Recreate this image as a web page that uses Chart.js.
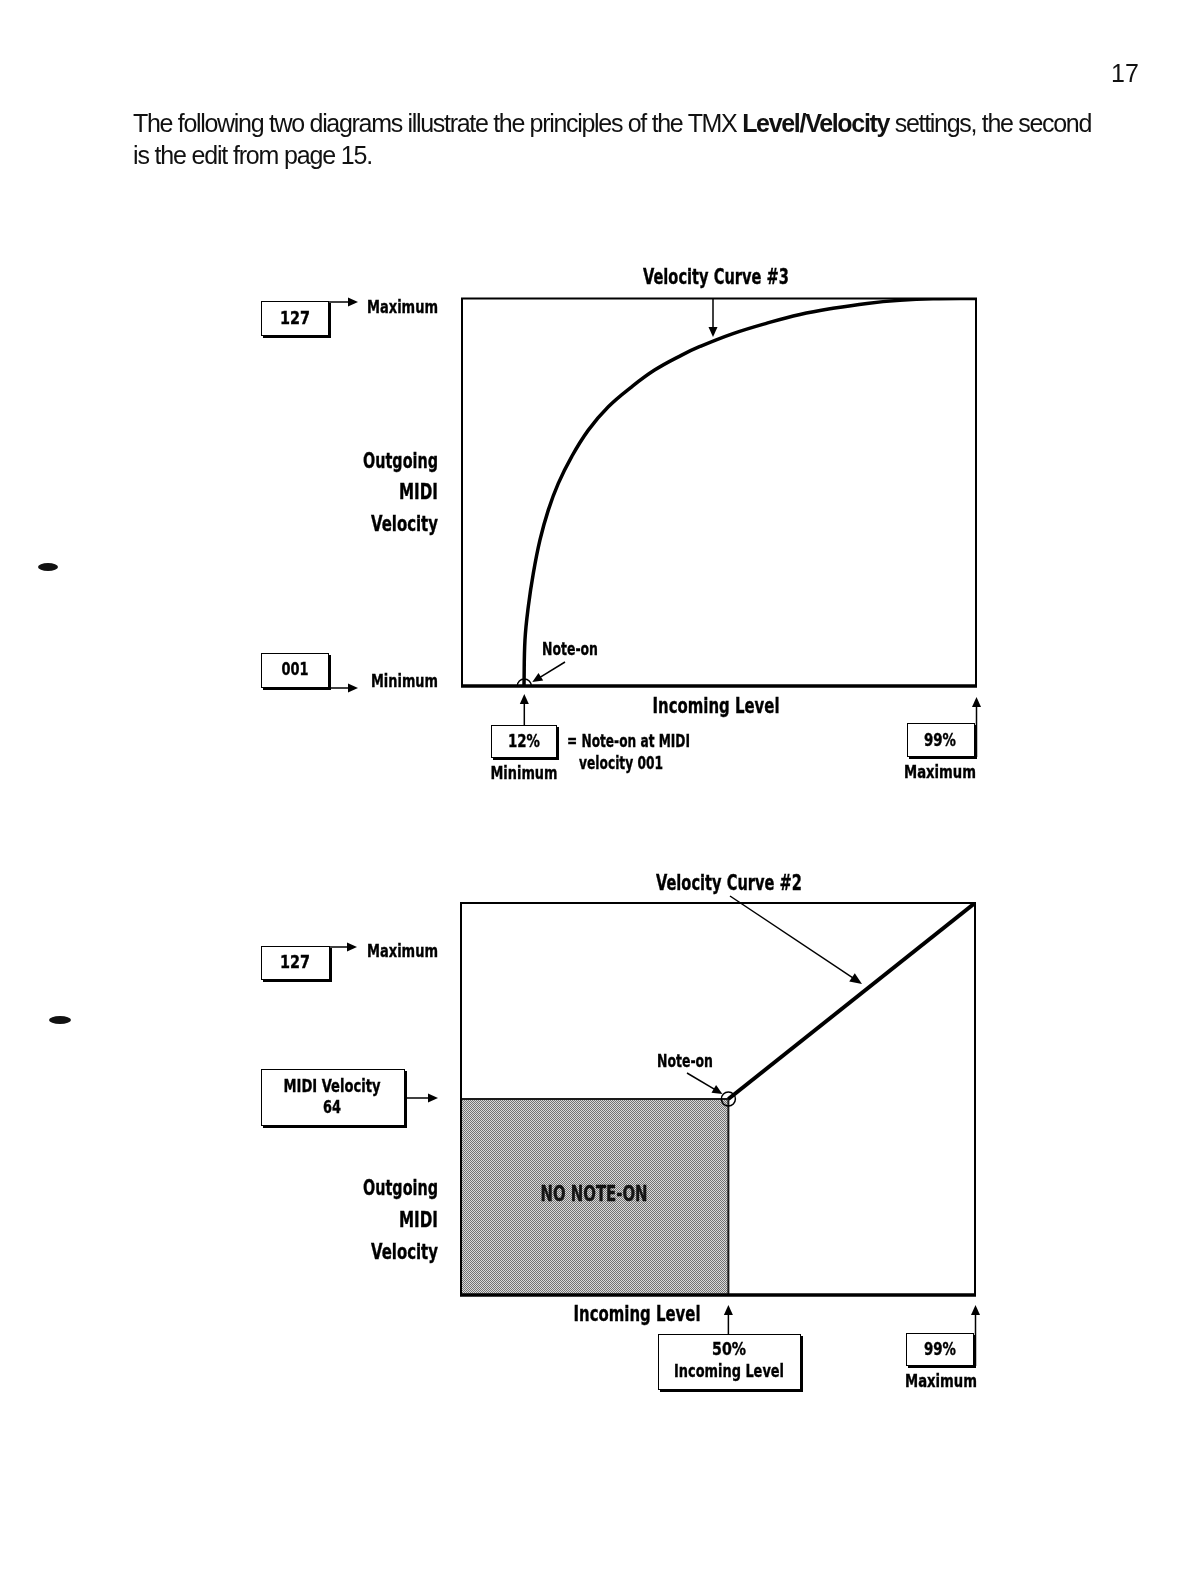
<!DOCTYPE html>
<html>
<head>
<meta charset="utf-8">
<script src="https://cdn.jsdelivr.net/npm/chart.js@4.4.1/dist/chart.umd.min.js"></script>
<style>
  html, body { margin: 0; padding: 0; background: #fff; }
  #page { position: relative; width: 1191px; height: 1570px; overflow: hidden; background: #fff; }
  canvas.plot { position: absolute; left: 0; top: 0; }
  .txt { position: absolute; font-family: "Liberation Sans", Arial, sans-serif; font-size: 25px; color: #111;
         white-space: nowrap; line-height: 1; transform: translateY(-50%); }
  .lbl { position: absolute; font-family: "Liberation Sans Narrow", "DejaVu Sans Condensed", "Liberation Sans", sans-serif;
         font-weight: bold; font-size: 18px; color: #000; white-space: nowrap; line-height: 1;
         -webkit-text-stroke: 0.35px #000; }
  .big { font-size: 22px; }
  .box { position: absolute; box-sizing: border-box; border: 1.5px solid #000; box-shadow: 2px 2px 0 #000; background: #fff; }
  .blob { position: absolute; background: #111; border-radius: 50%; }
</style>
</head>
<body>
<div id="page">
  <canvas id="chart1" class="plot" width="1191" height="1570"></canvas>
  <canvas id="chart2" class="plot" width="1191" height="1570"></canvas>

  <!-- page text -->
  <div class="txt" style="left:1111px;top:73px;">17</div>
  <div class="txt fit" data-w="958" style="left:133px;top:123px;">The following two diagrams illustrate the principles of the TMX <b>Level/Velocity</b> settings, the second</div>
  <div class="txt fit" data-w="239" style="left:133px;top:155px;">is the edit from page 15.</div>

  <!-- scan marks -->
  <div class="blob" style="left:38px;top:563px;width:20px;height:8px;"></div>
  <div class="blob" style="left:49px;top:1016px;width:22px;height:8px;"></div>

  <!-- diagram 1 -->
  <div class="box" style="left:261px;top:301px;width:68px;height:35px;"></div>
  <div class="box" style="left:261px;top:653px;width:68px;height:35px;"></div>
  <div class="box" style="left:491px;top:725px;width:66px;height:33px;"></div>
  <div class="box" style="left:907px;top:723px;width:68px;height:34px;"></div>

  <div class="lbl big" data-a="c" data-w="146" style="left:716px;top:277px;">Velocity Curve #3</div>
  <div class="lbl" data-a="c" data-w="30" style="left:295px;top:318px;">127</div>
  <div class="lbl" data-a="r" data-w="71" style="left:438px;top:307px;">Maximum</div>
  <div class="lbl" data-a="c" data-w="27" style="left:295px;top:669px;">001</div>
  <div class="lbl" data-a="r" data-w="67" style="left:438px;top:681px;">Minimum</div>
  <div class="lbl big" data-a="r" data-w="75" style="left:438px;top:461px;">Outgoing</div>
  <div class="lbl big" data-a="r" data-w="39" style="left:438px;top:492px;">MIDI</div>
  <div class="lbl big" data-a="r" data-w="67" style="left:438px;top:524px;">Velocity</div>
  <div class="lbl" data-a="c" data-w="56" style="left:570px;top:649px;">Note-on</div>
  <div class="lbl big" data-a="c" data-w="127" style="left:716px;top:706px;">Incoming Level</div>
  <div class="lbl" data-a="c" data-w="32" style="left:524px;top:741px;">12%</div>
  <div class="lbl" data-a="c" data-w="67" style="left:524px;top:773px;">Minimum</div>
  <div class="lbl" data-a="l" data-w="123" style="left:567px;top:741px;">= Note-on at MIDI</div>
  <div class="lbl" data-a="l" data-w="84" style="left:579px;top:763px;">velocity 001</div>
  <div class="lbl" data-a="c" data-w="32" style="left:940px;top:740px;">99%</div>
  <div class="lbl" data-a="c" data-w="72" style="left:940px;top:772px;">Maximum</div>

  <!-- diagram 2 -->
  <div class="box" style="left:261px;top:946px;width:69px;height:34px;"></div>
  <div class="box" style="left:261px;top:1069px;width:144px;height:57px;"></div>
  <div class="box" style="left:658px;top:1334px;width:143px;height:56px;"></div>
  <div class="box" style="left:906px;top:1333px;width:68px;height:33px;"></div>

  <div class="lbl big" data-a="c" data-w="146" style="left:729px;top:883px;">Velocity Curve #2</div>
  <div class="lbl" data-a="c" data-w="30" style="left:295px;top:962px;">127</div>
  <div class="lbl" data-a="r" data-w="71" style="left:438px;top:951px;">Maximum</div>
  <div class="lbl" data-a="c" data-w="97" style="left:332px;top:1086px;">MIDI Velocity</div>
  <div class="lbl" data-a="c" data-w="18" style="left:332px;top:1107px;">64</div>
  <div class="lbl big" data-a="r" data-w="75" style="left:438px;top:1188px;">Outgoing</div>
  <div class="lbl big" data-a="r" data-w="39" style="left:438px;top:1220px;">MIDI</div>
  <div class="lbl big" data-a="r" data-w="67" style="left:438px;top:1252px;">Velocity</div>
  <div class="lbl" data-a="c" data-w="56" style="left:685px;top:1061px;">Note-on</div>
  <div class="lbl big" data-a="c" data-w="107" style="left:594px;top:1194px;color:#151515;">NO NOTE-ON</div>
  <div class="lbl big" data-a="c" data-w="127" style="left:637px;top:1314px;">Incoming Level</div>
  <div class="lbl" data-a="c" data-w="34" style="left:729px;top:1349px;">50%</div>
  <div class="lbl" data-a="c" data-w="110" style="left:729px;top:1371px;">Incoming Level</div>
  <div class="lbl" data-a="c" data-w="32" style="left:940px;top:1349px;">99%</div>
  <div class="lbl" data-a="c" data-w="72" style="left:941px;top:1381px;">Maximum</div>
</div>

<script>
"use strict";

// ── Data ─────────────────────────────────────────────────────────────────────
// x: incoming level (%), y: outgoing MIDI velocity (1..127)
const levelRange    = [0, 99];
const velocityRange = [1, 127];

const curve3Level    = [11.94, 12.13, 12.77, 13.73, 15.02, 16.62, 18.55, 21.13, 24.33, 28.18, 32.69,
                        37.17, 42.32, 45.84, 52.20, 58.75, 65.10, 71.46, 78.01, 84.36, 90.72, 99];
const curve3Velocity = [1, 16.0, 26.8, 37.6, 48.5, 58.2, 66.9, 75.6, 84.2, 91.8, 98.3,
                        103.8, 108.6, 111.4, 115.6, 119.0, 121.8, 123.8, 125.4, 126.4, 126.9, 127];
const noteOn3        = [12, 1];

const curve2Level    = [51.5, 99];
const curve2Velocity = [64, 127];
const noteOn2        = [51.5, 64];
const noNoteLevel    = [0, 51.5, 51.5];
const noNoteVelocity = [64, 64, 1];

const pts = (xs, ys) => xs.map((x, i) => ({ x, y: ys[i] }));

// ── Helpers ──────────────────────────────────────────────────────────────────
function arrow(ctx, x1, y1, x2, y2, head = 10, half = 4.5) {
  const a = Math.atan2(y2 - y1, x2 - x1);
  ctx.save();
  ctx.strokeStyle = "#000";
  ctx.fillStyle = "#000";
  ctx.lineWidth = 1.5;
  ctx.beginPath();
  ctx.moveTo(x1, y1);
  ctx.lineTo(x2 - Math.cos(a) * head * 0.8, y2 - Math.sin(a) * head * 0.8);
  ctx.stroke();
  ctx.beginPath();
  ctx.moveTo(x2, y2);
  ctx.lineTo(x2 - Math.cos(a) * head - Math.sin(a) * half, y2 - Math.sin(a) * head + Math.cos(a) * half);
  ctx.lineTo(x2 - Math.cos(a) * head + Math.sin(a) * half, y2 - Math.sin(a) * head - Math.cos(a) * half);
  ctx.closePath();
  ctx.fill();
  ctx.restore();
}

function drawFrame(ctx, area) {
  ctx.save();
  ctx.strokeStyle = "#000";
  ctx.lineWidth = 2;
  ctx.strokeRect(area.left, area.top, area.right - area.left, area.bottom - area.top);
  ctx.lineWidth = 3.5;
  ctx.beginPath();
  ctx.moveTo(area.left - 1, area.bottom);
  ctx.lineTo(area.right + 1, area.bottom);
  ctx.stroke();
  ctx.restore();
}

function shadePattern() {
  const c = document.createElement("canvas");
  c.width = 2; c.height = 2;
  const g = c.getContext("2d");
  g.fillStyle = "#dadada"; g.fillRect(0, 0, 2, 2);
  g.fillStyle = "#737373"; g.fillRect(0, 0, 1, 1); g.fillRect(1, 1, 1, 1);
  return g.createPattern(c, "repeat");
}

function baseOptions(pad, annotate) {
  return {
    type: "line",
    options: {
      responsive: false,
      devicePixelRatio: 1,
      animation: false,
      events: [],
      layout: { padding: pad },
      plugins: { legend: { display: false }, tooltip: { enabled: false } },
      scales: {
        x: { type: "linear", min: levelRange[0], max: levelRange[1], display: false },
        y: { type: "linear", min: velocityRange[0], max: velocityRange[1], display: false },
      },
    },
    plugins: [{
      id: "frameAndNotes",
      afterDatasetsDraw(chart) { drawFrame(chart.ctx, chart.chartArea); },
      afterDraw(chart) { annotate(chart.ctx, chart.scales.x, chart.scales.y, chart.chartArea); },
    }],
  };
}

const markerDataset = (p) => ({
  data: [{ x: p[0], y: p[1] }],
  showLine: false,
  pointRadius: 7,
  pointBorderWidth: 1.5,
  pointBorderColor: "#000",
  pointBackgroundColor: "rgba(0,0,0,0)",
});

// ── Chart 1: Velocity Curve #3 ───────────────────────────────────────────────
const cfg1 = baseOptions({ left: 462, right: 1191 - 976, top: 298.5, bottom: 1570 - 686 }, (ctx, x, y, a) => {
  arrow(ctx, 713, a.top, 713, 337);                       // curve pointer
  arrow(ctx, 329, 302, 358, 302);                         // 127 -> Maximum
  arrow(ctx, 329, 688, 358, 688);                         // 001 -> Minimum
  const nx = x.getPixelForValue(noteOn3[0]);
  arrow(ctx, 565, 662, nx + 8, a.bottom - 4);             // Note-on pointer
  arrow(ctx, nx, 725, nx, a.bottom + 8);                  // 12% pointer
  arrow(ctx, a.right + 0.5, 757, a.right + 0.5, a.bottom + 11);  // 99% pointer
});
cfg1.data = {
  datasets: [
    markerDataset(noteOn3),
    {
      data: pts(curve3Level, curve3Velocity),
      borderColor: "#000",
      borderWidth: 3.5,
      pointRadius: 0,
      tension: 0.4,
      fill: false,
    },
  ],
};
new Chart(document.getElementById("chart1"), cfg1);

// ── Chart 2: Velocity Curve #2 ───────────────────────────────────────────────
const cfg2 = baseOptions({ left: 461, right: 1191 - 975, top: 903, bottom: 1570 - 1295 }, (ctx, x, y, a) => {
  arrow(ctx, 730, 896, 862, 984, 12, 5);                  // curve pointer
  arrow(ctx, 330, 947, 357, 947);                         // 127 -> Maximum
  arrow(ctx, 405, y.getPixelForValue(64) - 1, 438, y.getPixelForValue(64) - 1);
  const nx = x.getPixelForValue(noteOn2[0]);
  const ny = y.getPixelForValue(noteOn2[1]);
  arrow(ctx, 687, 1073, nx - 6, ny - 5);                  // Note-on pointer
  arrow(ctx, nx, 1334, nx, a.bottom + 10);                // 50% pointer
  arrow(ctx, a.right + 0.5, 1366, a.right + 0.5, a.bottom + 10); // 99% pointer
});
cfg2.data = {
  datasets: [
    markerDataset(noteOn2),
    {
      data: pts(curve2Level, curve2Velocity),
      borderColor: "#000",
      borderWidth: 4,
      pointRadius: 0,
      tension: 0,
      fill: false,
    },
    {
      data: pts(noNoteLevel, noNoteVelocity),
      borderColor: "#1a1a1a",
      borderWidth: 2,
      pointRadius: 0,
      tension: 0,
      fill: "start",
      backgroundColor: shadePattern(),
    },
  ],
};
new Chart(document.getElementById("chart2"), cfg2);

// ── Fit labels to the widths ─────────────────────────────────────────────────
document.querySelectorAll(".lbl").forEach(el => {
  const w = el.getBoundingClientRect().width;
  const s = el.dataset.w ? Number(el.dataset.w) / w : 1;
  const a = el.dataset.a || "c";
  if (a === "r") {
    el.style.transformOrigin = "right center";
    el.style.transform = `translate(-100%, -50%) scaleX(${s})`;
  } else if (a === "l") {
    el.style.transformOrigin = "left center";
    el.style.transform = `translateY(-50%) scaleX(${s})`;
  } else {
    el.style.transform = `translate(-50%, -50%) scaleX(${s})`;
  }
});
// body text: tighten letter spacing rather than squeezing glyphs
document.querySelectorAll(".txt.fit").forEach(el => {
  const n = el.textContent.length;
  const w = el.getBoundingClientRect().width;
  el.style.letterSpacing = ((Number(el.dataset.w) - w) / n) + "px";
});
</script>
</body>
</html>
